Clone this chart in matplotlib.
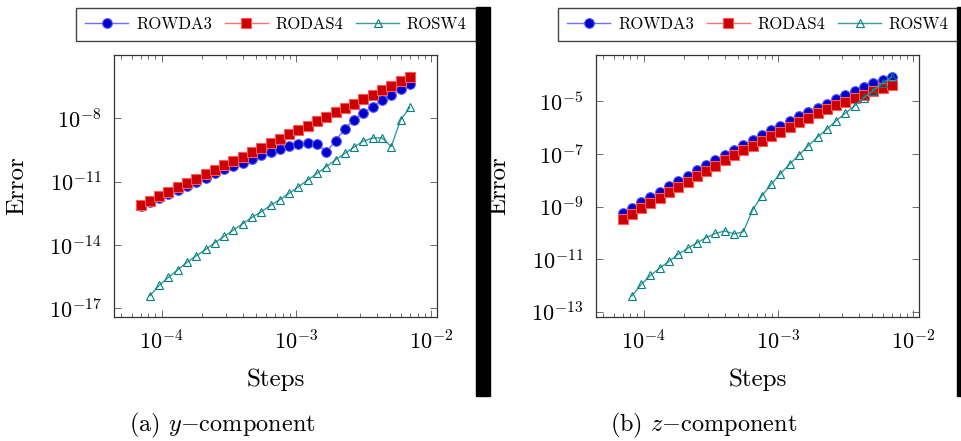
import numpy as np
import matplotlib
matplotlib.use("Agg")
import matplotlib.pyplot as plt
from matplotlib.patches import Rectangle
from matplotlib.ticker import LogLocator, NullLocator

plt.rcParams['font.family'] = ['cmr10', 'DejaVu Serif']
plt.rcParams['mathtext.fontset'] = 'cm'
plt.rcParams['axes.unicode_minus'] = False
plt.rcParams['axes.formatter.use_mathtext'] = True

# step sizes (same for every method)
steps = [7.00e-5, 8.21e-5, 9.62e-5, 1.127e-4, 1.321e-4, 1.548e-4, 1.815e-4, 2.128e-4,
         2.493e-4, 2.922e-4, 3.425e-4, 4.015e-4, 4.706e-4, 5.516e-4, 6.465e-4, 7.577e-4,
         8.881e-4, 1.041e-3, 1.220e-3, 1.430e-3, 1.676e-3, 1.965e-3, 2.303e-3, 2.699e-3,
         3.163e-3, 3.708e-3, 4.346e-3, 5.094e-3, 5.970e-3, 7.00e-3]

# log10 of the error, y-component
rowda3_y = [-12.15, -11.96, -11.76, -11.58, -11.39, -11.21, -11.02, -10.83, -10.61, -10.42,
            -10.26, -10.10, -9.93, -9.75, -9.58, -9.45, -9.33, -9.23, -9.17, -9.20,
            -9.59, -9.06, -8.49, -8.06, -7.73, -7.45, -7.15, -6.88, -6.63, -6.39]
rodas4_y = [-12.11, -11.90, -11.69, -11.49, -11.27, -11.06, -10.86, -10.65, -10.43, -10.23,
            -10.02, -9.82, -9.59, -9.39, -9.18, -8.96, -8.76, -8.55, -8.35, -8.14,
            -7.92, -7.72, -7.51, -7.31, -7.10, -6.88, -6.67, -6.47, -6.25, -6.06]
rosw4_y = [-16.40, -15.91, -15.53, -15.17, -14.82, -14.51, -14.21, -13.89, -13.59, -13.29,
           -12.99, -12.69, -12.42, -12.12, -11.85, -11.55, -11.24, -10.92, -10.61, -10.29,
           -9.96, -9.66, -9.36, -9.07, -8.93, -8.92, -9.34, -8.08, -7.48]

# log10 of the error, z-component
rowda3_z = [-9.23, -9.04, -8.83, -8.63, -8.43, -8.22, -8.03, -7.83, -7.62, -7.43,
            -7.23, -7.04, -6.85, -6.66, -6.46, -6.29, -6.11, -5.93, -5.75, -5.57,
            -5.41, -5.24, -5.09, -4.92, -4.77, -4.62, -4.46, -4.32, -4.20, -4.06]
rodas4_z = [-9.48, -9.27, -9.06, -8.86, -8.66, -8.46, -8.26, -8.06, -7.85, -7.65,
            -7.46, -7.25, -7.06, -6.87, -6.69, -6.52, -6.32, -6.15, -5.97, -5.80,
            -5.62, -5.46, -5.31, -5.15, -5.01, -4.87, -4.75, -4.62, -4.50, -4.39]
rosw4_z = [-12.40, -11.96, -11.62, -11.34, -11.08, -10.81, -10.59, -10.38, -10.18, -10.02,
           -9.93, -10.04, -9.96, -9.13, -8.59, -8.16, -7.75, -7.39, -7.04, -6.69,
           -6.36, -6.06, -5.74, -5.45, -5.17, -4.86, -4.59, -4.32, -4.07]

methods = ['ROWDA3', 'RODAS4', 'ROSW4']
y_ticks_a = [1e-17, 1e-14, 1e-11, 1e-8]
y_ticks_b = [1e-13, 1e-11, 1e-9, 1e-7, 1e-5]

fig = plt.figure(figsize=(9.62, 4.41), dpi=100)
W, H = 962.0, 441.0


def make_panel(x0, rowda, rodas, rosw, ylim, yticks, legend_x0, caption):
    ax = fig.add_axes([x0 / W, 1 - 317 / H, 323 / W, 262 / H])
    x = np.array(steps)
    ax.plot(x, 10.0 ** np.array(rowda), color='#7070ff', lw=1.0, marker='o', ms=7,
            mfc='#0000cc', mec='#5a5aff', mew=0.8, label=methods[0])
    ax.plot(x, 10.0 ** np.array(rodas), color='#ff7070', lw=1.0, marker='s', ms=6.8,
            mfc='#cc0000', mec='#ff5a5a', mew=0.8, label=methods[1])
    ax.plot(x[1:], 10.0 ** np.array(rosw), color='#3a9a9a', lw=1.0, marker='^', ms=5.5,
            mfc='none', mec='#008080', mew=0.8, label=methods[2])
    ax.set_xscale('log')
    ax.set_yscale('log')
    ax.set_xlim(10 ** -4.353, 10 ** -1.953)
    ax.set_ylim(*ylim)
    ax.set_xticks([1e-4, 1e-3, 1e-2])
    ax.xaxis.set_minor_locator(LogLocator(base=10, subs=np.arange(2, 10)))
    ax.set_yticks(yticks)
    ax.yaxis.set_minor_locator(NullLocator())
    ax.tick_params(which='both', direction='in', top=True, right=True,
                   color='#555555', width=0.6, labelsize=16)
    ax.tick_params(which='major', length=5)
    ax.tick_params(which='minor', length=3)
    ax.tick_params(axis='x', pad=9)
    ax.tick_params(axis='y', pad=9)
    for s in ax.spines.values():
        s.set_color('#333333')
        s.set_linewidth(0.9)
    ax.set_xlabel('Steps', fontsize=18)
    ax.set_ylabel('Error', fontsize=18)
    ax.xaxis.set_label_coords(0.5, -0.195)
    ax.yaxis.set_label_coords(-0.265, 0.5)
    leg = ax.legend(loc='center', ncol=3, mode='expand',
                    bbox_to_anchor=(legend_x0 / W, 1 - 42 / H, 400 / W, 35 / H),
                    bbox_transform=fig.transFigure, fontsize=12, numpoints=1,
                    handlelength=2.6, handletextpad=0.45, columnspacing=0.5,
                    borderpad=0.55, fancybox=False, framealpha=1, borderaxespad=0)
    leg.get_frame().set_edgecolor('#444444')
    leg.get_frame().set_linewidth(1.0)
    fig.text((x0 + 108) / W, 1 - 425 / H, caption, ha='center', va='center', fontsize=17.5)
    return ax


make_panel(114, rowda3_y, rodas4_y, rosw4_y, (10 ** -17.41, 10 ** -5.0), y_ticks_a,
           76, r'(a) $y$$-$component')
make_panel(596, rowda3_z, rodas4_z, rosw4_z, (10 ** -13.2, 10 ** -3.24), y_ticks_b,
           558, r'(b) $z$$-$component')

# black bars at the right of each subfigure
fig.patches.append(Rectangle((476 / W, 1 - 396 / H), 14 / W, 389 / H, color='black',
                             transform=fig.transFigure, figure=fig))
fig.patches.append(Rectangle((957 / W, 1 - 396 / H), 5 / W, 389 / H, color='black',
                             transform=fig.transFigure, figure=fig))

fig.savefig('out.png', dpi=100)
